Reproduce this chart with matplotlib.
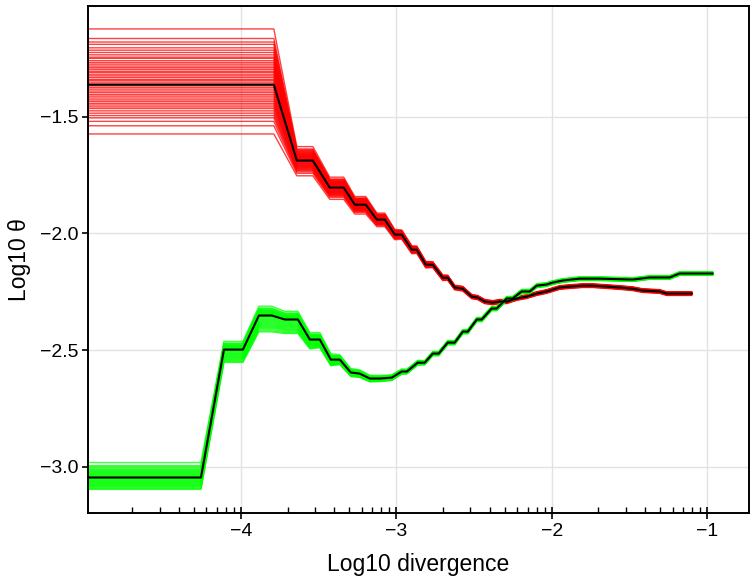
import matplotlib
matplotlib.use("Agg")

import matplotlib.pyplot as plt
from matplotlib.ticker import FixedLocator
import numpy as np

# central (black) curves
red_x = [-5.0, -3.788, -3.640, -3.537, -3.428, -3.338, -3.267, -3.196, -3.125, -3.074,
         -3.010, -2.965, -2.900, -2.868, -2.810, -2.765, -2.701, -2.669, -2.624, -2.572,
         -2.514, -2.476, -2.431, -2.379, -2.334, -2.289, -2.225, -2.161, -2.096, -2.032,
         -1.949, -1.884, -1.801, -1.736, -1.646, -1.563, -1.479, -1.415, -1.305, -1.260,
         -1.100]
red_y = [-1.363, -1.363, -1.688, -1.688, -1.804, -1.804, -1.877, -1.877, -1.941, -1.941,
         -2.005, -2.005, -2.070, -2.070, -2.134, -2.134, -2.190, -2.190, -2.232, -2.237,
         -2.271, -2.275, -2.292, -2.297, -2.292, -2.292, -2.279, -2.271, -2.258, -2.249,
         -2.232, -2.228, -2.224, -2.224, -2.228, -2.232, -2.237, -2.245, -2.249, -2.258,
         -2.258]
# spread of the replicate band above / below the black curve
red_up = [0.24, 0.24, 0.06, 0.06, 0.045, 0.045, 0.035, 0.035, 0.028, 0.028,
          0.022, 0.02, 0.017, 0.016, 0.014, 0.013, 0.012, 0.011, 0.01, 0.01,
          0.009, 0.009, 0.009, 0.009, 0.009, 0.009, 0.008, 0.008, 0.008, 0.008,
          0.008, 0.008, 0.008, 0.008, 0.008, 0.008, 0.008, 0.008, 0.008, 0.008,
          0.008]
red_dn = [0.21, 0.21, 0.065, 0.065, 0.05, 0.05, 0.04, 0.04, 0.03, 0.03,
          0.022, 0.02, 0.017, 0.016, 0.014, 0.013, 0.012, 0.011, 0.01, 0.01,
          0.009, 0.009, 0.009, 0.009, 0.009, 0.009, 0.008, 0.008, 0.008, 0.008,
          0.008, 0.008, 0.008, 0.008, 0.008, 0.008, 0.008, 0.008, 0.008, 0.008,
          0.008]
# starting levels of the red replicates (flat part on the left)
red_start = [-1.124, -1.165, -1.18, -1.19, -1.205, -1.215, -1.225, -1.235, -1.245, -1.25,
             -1.26, -1.268, -1.275, -1.283, -1.29, -1.297, -1.305, -1.31, -1.318, -1.325,
             -1.332, -1.34, -1.345, -1.352, -1.36, -1.368, -1.375, -1.382, -1.39, -1.397,
             -1.405, -1.412, -1.42, -1.428, -1.435, -1.443, -1.45, -1.458, -1.465, -1.475,
             -1.485, -1.495, -1.505, -1.52, -1.539, -1.574]

green_x = [-5.0, -4.257, -4.109, -3.987, -3.884, -3.801, -3.717, -3.633, -3.556, -3.492,
           -3.421, -3.363, -3.293, -3.235, -3.170, -3.106, -3.029, -2.965, -2.932, -2.862,
           -2.817, -2.765, -2.727, -2.669, -2.624, -2.572, -2.540, -2.482, -2.450, -2.386,
           -2.354, -2.289, -2.251, -2.193, -2.141, -2.096, -2.032, -1.994, -1.929, -1.820,
           -1.691, -1.479, -1.370, -1.241, -1.177, -0.965]
green_y = [-3.046, -3.046, -2.498, -2.498, -2.352, -2.352, -2.369, -2.369, -2.455, -2.455,
           -2.541, -2.541, -2.596, -2.601, -2.622, -2.622, -2.618, -2.592, -2.592, -2.554,
           -2.554, -2.515, -2.515, -2.468, -2.468, -2.421, -2.421, -2.369, -2.369, -2.322,
           -2.322, -2.279, -2.279, -2.249, -2.249, -2.224, -2.219, -2.211, -2.202, -2.194,
           -2.194, -2.198, -2.189, -2.189, -2.172, -2.172]
green_up = [0.064, 0.064, 0.035, 0.035, 0.04, 0.04, 0.035, 0.035, 0.03, 0.03,
            0.025, 0.021, 0.017, 0.016, 0.014, 0.013, 0.012, 0.011, 0.01, 0.01,
            0.009, 0.009, 0.009, 0.009, 0.009, 0.009, 0.009, 0.009, 0.009, 0.009,
            0.009, 0.009, 0.009, 0.009, 0.009, 0.008, 0.008, 0.008, 0.008, 0.008,
            0.008, 0.008, 0.008, 0.008, 0.008, 0.008]
green_dn = [0.051, 0.051, 0.055, 0.055, 0.07, 0.07, 0.06, 0.06, 0.04, 0.035,
            0.026, 0.021, 0.017, 0.016, 0.014, 0.013, 0.012, 0.011, 0.01, 0.01,
            0.009, 0.009, 0.009, 0.009, 0.009, 0.009, 0.009, 0.009, 0.009, 0.009,
            0.009, 0.009, 0.009, 0.009, 0.009, 0.008, 0.008, 0.008, 0.008, 0.008,
            0.008, 0.008, 0.008, 0.008, 0.008, 0.008]
green_start = [-2.982, -2.995, -3.0, -3.005, -3.01, -3.013, -3.017, -3.02, -3.023, -3.026,
               -3.029, -3.032, -3.035, -3.038, -3.041, -3.044, -3.047, -3.05, -3.053, -3.056,
               -3.059, -3.062, -3.065, -3.068, -3.071, -3.074, -3.077, -3.08, -3.083, -3.086,
               -3.09, -3.094, -3.097]

x_ticks = [-4, -3, -2, -1]
y_ticks = [-3.0, -2.5, -2.0, -1.5]

plt.rcParams['font.family'] = ['Liberation Sans', 'DejaVu Sans']


def replicates(ax, xs, ys, up, dn, starts, color):
    """draw one line per replicate, scaled from its starting offset"""
    xs = np.array(xs)
    ys = np.array(ys)
    up = np.array(up)
    dn = np.array(dn)
    for s in starts:
        off = s - ys[0]
        if off >= 0:
            yy = ys + off / up[0] * up
        else:
            yy = ys + off / dn[0] * dn
        ax.plot(xs, yy, color=color, lw=1.0, alpha=0.75)


fig = plt.figure(figsize=(7.52, 5.82), dpi=100)
ax = fig.add_axes([0.117, 0.119, 0.879, 0.871])

replicates(ax, red_x, red_y, red_up, red_dn, red_start, '#FF0000')
replicates(ax, green_x, green_y, green_up, green_dn, green_start, '#00FF00')
ax.plot(red_x, red_y, color='black', lw=1.5)
ax.plot(green_x, green_y, color='black', lw=1.5)

ax.set_xlim(-4.984, -0.73)
ax.set_ylim(-3.197, -1.025)

ax.set_xticks(x_ticks)
ax.set_xticklabels(['\u2212%d' % abs(v) for v in x_ticks])
ax.set_yticks(y_ticks)
ax.set_yticklabels(['\u2212%.1f' % abs(v) for v in y_ticks])

# log-style minor ticks within each decade
minor = []
for d in range(-5, 0):
    for k in range(2, 10):
        minor.append(d + np.log10(k))
ax.xaxis.set_minor_locator(FixedLocator(minor))

ax.grid(True, which='major', color='#e3e3e3', lw=1.0)
ax.set_axisbelow(True)
for sp in ax.spines.values():
    sp.set_linewidth(1.4)

ax.tick_params(axis='x', which='major', direction='inout', length=9, width=1.2,
               labelsize=14, pad=3)
ax.tick_params(axis='x', which='minor', direction='in', length=4.5, width=1.0)
ax.tick_params(axis='y', which='major', direction='out', length=4, width=1.2,
               labelsize=14, pad=3)

ax.set_xlabel('Log10 divergence', fontsize=16.5, labelpad=9)
ax.set_ylabel('Log10 \u03b8', fontsize=16.5, labelpad=6)

fig.savefig('out.png', dpi=100)
